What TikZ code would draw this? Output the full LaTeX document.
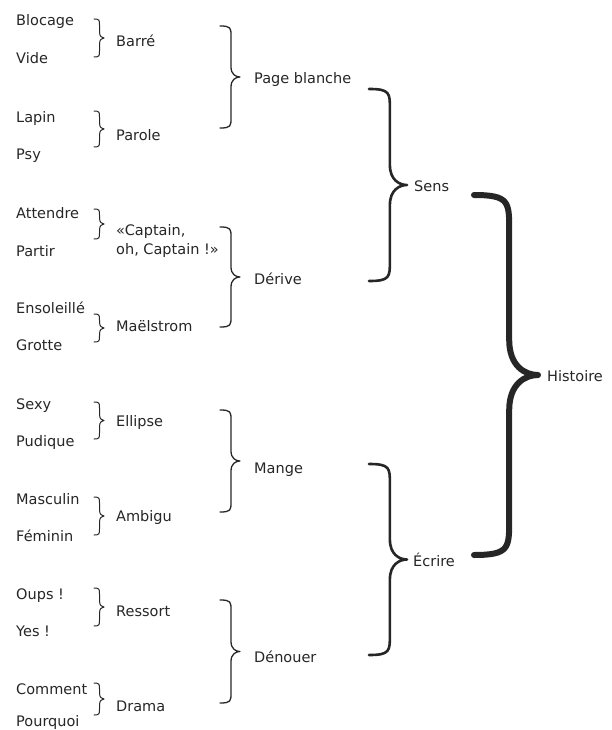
\documentclass[tikz,border=0pt]{standalone}
\usepackage{fontspec}
\setmainfont{DejaVu Sans}
\newcommand\brc[6]{% x0, ytop, ybot, width, radius, linewidth
  \pgfmathsetmacro\bxa{#1}\pgfmathsetmacro\bxs{#1+0.55*#4}\pgfmathsetmacro\bxt{#1+#4}%
  \pgfmathsetmacro\bym{(#2+#3)/2}%
  \draw[bracestyle,line width=#6] (\bxa,#2) .. controls (\bxs,#2) and (\bxs,{#2+0.2*#5}) .. (\bxs,{#2+#5})
    -- (\bxs,{\bym-#5}) .. controls (\bxs,{\bym-0.25*#5}) and ({\bxs+0.25*#4},\bym) .. (\bxt,\bym)
    .. controls ({\bxs+0.25*#4},\bym) and (\bxs,{\bym+0.25*#5}) .. (\bxs,{\bym+#5})
    -- (\bxs,{#3-#5}) .. controls (\bxs,{#3-0.2*#5}) and (\bxs,#3) .. (\bxa,#3);}
\begin{document}
\begin{tikzpicture}[x=1pt,y=-1pt,
  bracestyle/.style={draw=black!85,line cap=round,line join=round},
  lbl/.style={anchor=base west,inner sep=0pt,font=\fontsize{14.5}{18}\selectfont,text=black!85}]
\useasboundingbox (0,0) rectangle (611,730);
% leaves
\node[lbl] (l1) at (16,26) {Blocage};
\node[lbl] (l2) at (16,64) {Vide};
\node[lbl] (l3) at (16,123) {Lapin};
\node[lbl] (l4) at (16,160) {Psy};
\node[lbl] (l5) at (16,218) {Attendre};
\node[lbl] (l6) at (16,256) {Partir};
\node[lbl] (l7) at (16,313) {Ensoleillé};
\node[lbl] (l8) at (16,350) {Grotte};
\node[lbl] (l9) at (16,409) {Sexy};
\node[lbl] (l10) at (16,446) {Pudique};
\node[lbl] (l11) at (16,504) {Masculin};
\node[lbl] (l12) at (16,541) {Féminin};
\node[lbl] (l13) at (16,599) {Oups !};
\node[lbl] (l14) at (16,636) {Yes !};
\node[lbl] (l15) at (16,694) {Comment};
\node[lbl] (l16) at (16,726.5) {Pourquoi};
% level 2
\node[lbl] (m1) at (116,47) {Barré};
\node[lbl] (m2) at (116,141) {Parole};
\node[lbl] (m3a) at (116,235) {«Captain,};
\node[lbl] (m3b) at (116,254) {oh, Captain !»};
\node[lbl] (m4) at (116,331) {Maëlstrom};
\node[lbl] (m5) at (116,426) {Ellipse};
\node[lbl] (m6) at (116,521) {Ambigu};
\node[lbl] (m7) at (116,616) {Ressort};
\node[lbl] (m8) at (116,711) {Drama};
% level 3
\node[lbl] (n1) at (254,84) {Page blanche};
\node[lbl] (n2) at (254,284) {Dérive};
\node[lbl] (n3) at (254,473) {Mange};
\node[lbl] (n4) at (254,662) {Dénouer};
% level 4
\node[lbl] (s1) at (414,191) {Sens};
\node[lbl] (s2) at (413,566) {Écrire};
% root
\node[lbl] (h) at (547,381) {Histoire};
% small braces
\brc{94}{19}{57}{10}{6}{1pt}
\brc{94}{111}{147}{10}{6}{1pt}
\brc{94}{209}{239}{10}{6}{1pt}
\brc{94}{314}{342}{10}{6}{1pt}
\brc{94}{402}{439}{10}{6}{1pt}
\brc{94}{497}{535}{10}{6}{1pt}
\brc{94}{588}{626}{10}{6}{1pt}
\brc{94}{683}{715}{10}{6}{1pt}
% medium braces
\brc{220}{26}{128}{20}{10}{1.3pt}
\brc{220}{227}{327}{20}{10}{1.3pt}
\brc{220}{410}{512}{20}{10}{1.3pt}
\brc{220}{600}{703}{20}{10}{1.3pt}
% large braces
\brc{369}{89}{281}{38}{20}{2.6pt}
\brc{369}{464}{655}{38}{20}{2.6pt}
% root brace
\brc{474}{195}{555}{64}{35}{6pt}
\end{tikzpicture}
\end{document}
